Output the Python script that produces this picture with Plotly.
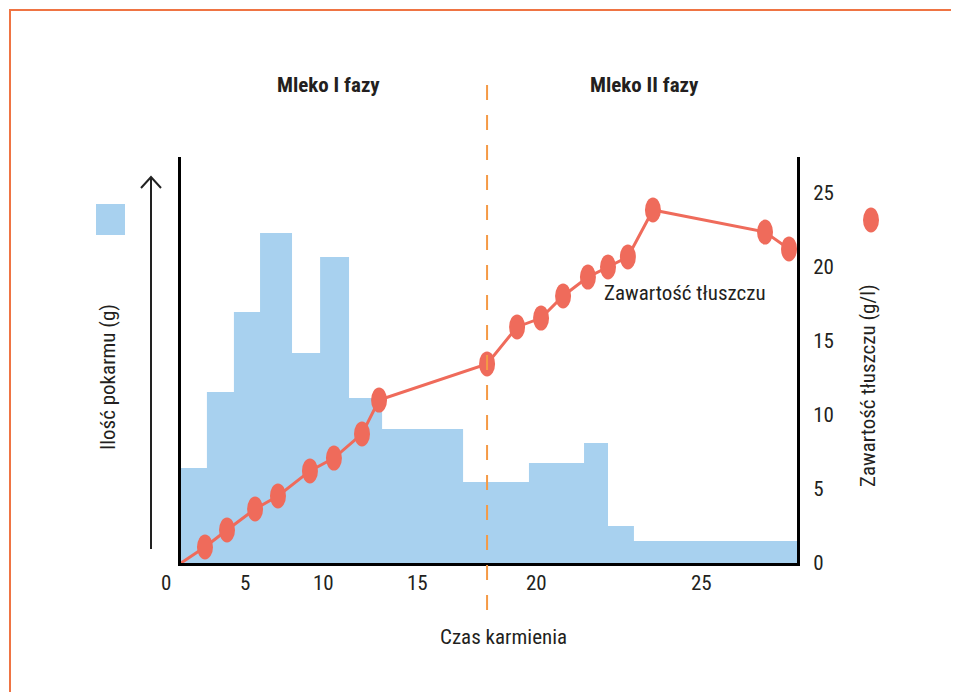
import plotly.graph_objects as go

# ---------------- data ----------------
bar_edges = [0, 1.20, 2.45, 3.66, 5.14, 6.44, 7.78, 9.31, 13.06, 16.11, 18.66, 19.77, 20.97, 28.52]
bar_heights = [6.42, 11.55, 16.96, 22.30, 14.19, 20.68, 11.15, 9.05, 5.47, 6.76, 8.11, 2.50, 1.49]

fat_x = [0, 1.11, 2.13, 3.43, 4.49, 5.97, 7.08, 8.38, 9.17, 14.17, 15.56, 16.67, 17.69,
         18.84, 19.77, 20.69, 21.85, 27.04, 28.15]
fat_y = [0, 1.08, 2.23, 3.65, 4.53, 6.22, 7.09, 8.72, 11.01, 13.45, 15.95, 16.55, 18.04,
         19.32, 20.00, 20.68, 23.85, 22.36, 21.22]

x_tick_labels = ["0", "5", "10", "15", "20", "25"]
x_tick_pos = [-0.69, 2.96, 6.62, 10.93, 16.48, 24.12]
y2_ticks = [0, 5, 10, 15, 20, 25]
phase_split = 14.17

phase_labels = ["Mleko I fazy", "Mleko II fazy"]
x_title = "Czas karmienia"
y_title = "Ilość pokarmu (g)"
y2_title = "Zawartość tłuszczu (g/l)"
series_label = "Zawartość tłuszczu"

# ---------------- layout geometry ----------------
OFF = 8  # page body margin
W, H = 959 - OFF, 692 - OFF
L, R, T, B = 181 - OFF, 797 - OFF, 157 - OFF, 563 - OFF
X_RANGE = [0, 28.52]
Y_RANGE = [0, 27.43]

def px(x):
    return (x - OFF - L) / (R - L)

def py(y):
    return (B - (y - OFF)) / (B - T)

def xdata_to_paper(v):
    return (v - X_RANGE[0]) / (X_RANGE[1] - X_RANGE[0])

FONT = "Liberation Sans Narrow, Roboto Condensed, Arial Narrow, Roboto, Liberation Sans, sans-serif"
TXT = "#231F20"
BLUE = "#A8D1EF"
RED = "#EF6B5B"
ORANGE = "#F59A45"
FRAME = "#EF7443"

fig = go.Figure()

# step-shaped area for food amount
step_y = bar_heights + [bar_heights[-1]]
fig.add_trace(go.Scatter(
    x=bar_edges, y=step_y, mode="lines", line=dict(shape="hv", width=0, color=BLUE),
    fill="tozeroy", fillcolor=BLUE, hoverinfo="skip", yaxis="y"))

# fat content line
fig.add_trace(go.Scatter(
    x=fat_x, y=fat_y, mode="lines", line=dict(color=RED, width=3), yaxis="y2",
    hoverinfo="skip", cliponaxis=False))

shapes = []
# ellipse markers (pixel sized, anchored on data)
for xv, yv in zip(fat_x[1:], fat_y[1:]):
    shapes.append(dict(type="circle", xref="x", yref="y2", xsizemode="pixel", ysizemode="pixel",
                       xanchor=xv, yanchor=yv, x0=-8, x1=8, y0=-12.5, y1=12.5,
                       fillcolor=RED, line=dict(width=0), layer="above"))

# phase separator
shapes.append(dict(type="line", xref="x", yref="paper", x0=phase_split, x1=phase_split,
                   y0=py(610), y1=py(72), line=dict(color=ORANGE, width=2, dash="15px,15px"),
                   layer="above"))

# legend icons
shapes.append(dict(type="rect", xref="paper", yref="paper", x0=px(96), x1=px(125),
                   y0=py(235), y1=py(204), fillcolor=BLUE, line=dict(width=0)))
shapes.append(dict(type="circle", xref="paper", yref="paper", xsizemode="pixel", ysizemode="pixel",
                   xanchor=px(871), yanchor=py(220), x0=-8, x1=8, y0=-12.5, y1=12.5,
                   fillcolor=RED, line=dict(width=0)))

# arrow next to left axis
shapes.append(dict(type="line", xref="paper", yref="paper", x0=px(151), x1=px(151),
                   y0=py(549), y1=py(178), line=dict(color="#222", width=2)))
shapes.append(dict(type="path", xref="paper", yref="paper",
                   path=f"M {px(141)} {py(188)} L {px(151)} {py(177)} L {px(161)} {py(188)}",
                   line=dict(color="#222", width=2)))

# orange frame (top and left)
shapes.append(dict(type="line", xref="paper", yref="paper", x0=px(10), x1=px(10),
                   y0=py(692), y1=py(9), line=dict(color=FRAME, width=2)))
shapes.append(dict(type="line", xref="paper", yref="paper", x0=px(9), x1=px(959),
                   y0=py(10), y1=py(10), line=dict(color=FRAME, width=2)))

def ann(x, y, text, **kw):
    d = dict(x=x, y=y, xref="paper", yref="paper", text=text, showarrow=False,
             xanchor="center", yanchor="middle",
             font=dict(size=21, color=TXT, family=FONT))
    d.update(kw)
    return d

annotations = []
for lab, pos in zip(x_tick_labels, x_tick_pos):
    annotations.append(ann(xdata_to_paper(pos), py(583), lab))

annotations += [
    ann(px(328), py(85), f"<b>{phase_labels[0]}</b>"),
    ann(px(644), py(85), f"<b>{phase_labels[1]}</b>"),
    ann(px(685), py(293), series_label),
    ann(px(503), py(637), x_title),
    ann(px(108), py(377), y_title, textangle=-90),
    ann(px(868), py(386), y2_title, textangle=-90),
]

fig.update_layout(
    width=W, height=H,
    margin=dict(l=L, r=W - R, t=T, b=H - B, pad=0),
    paper_bgcolor="white", plot_bgcolor="white",
    showlegend=False,
    font=dict(family=FONT, color=TXT, size=21),
    xaxis=dict(range=X_RANGE, showline=True, linecolor="black", linewidth=3, showgrid=False,
               zeroline=False, showticklabels=False, ticks=""),
    yaxis=dict(range=Y_RANGE, showline=True, linecolor="black", linewidth=3, showgrid=False,
               zeroline=False, showticklabels=False, ticks=""),
    yaxis2=dict(range=Y_RANGE, overlaying="y", side="right", showline=True, linecolor="black",
                linewidth=3, showgrid=False, zeroline=False, tickvals=y2_ticks, ticks="",
                ticklabelstandoff=9, tickfont=dict(size=21, color=TXT, family=FONT)),
    shapes=shapes,
    annotations=annotations,
)

fig.write_html("out.html")
